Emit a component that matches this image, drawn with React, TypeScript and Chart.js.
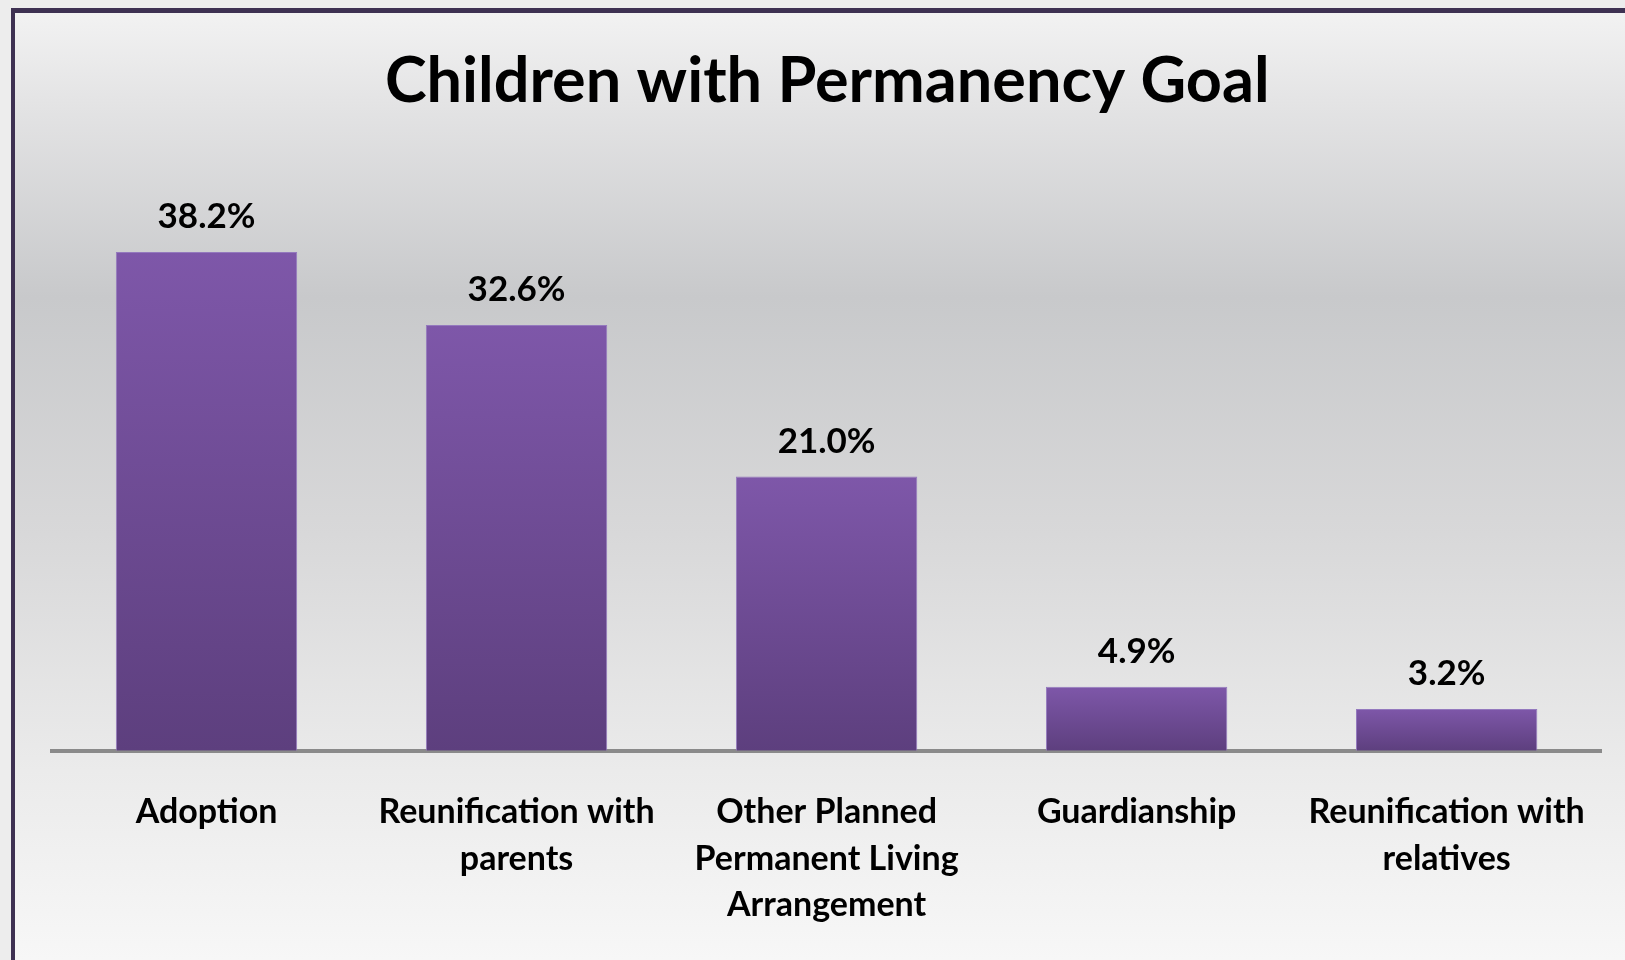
import React, { useEffect, useRef } from "react";
import { Chart, registerables } from "chart.js";

Chart.register(...registerables);

const chartTitle = "Children with Permanency Goal";
const categories: string[][] = [
  ["Adoption"],
  ["Reunification with", "parents"],
  ["Other Planned", "Permanent Living", "Arrangement"],
  ["Guardianship"],
  ["Reunification with", "relatives"],
];
const values: number[] = [38.2, 32.6, 21.0, 4.9, 3.2];
const valueLabels: string[] = ["38.2%", "32.6%", "21.0%", "4.9%", "3.2%"];

const FONT = "Lato";

const bgPlugin = {
  id: "bgFrame",
  beforeDraw(chart: any) {
    const { ctx, width, height } = chart;
    ctx.save();
    ctx.fillStyle = "#ededed";
    ctx.fillRect(0, 0, width, height);
    const g = ctx.createLinearGradient(0, 13, 0, height);
    g.addColorStop(0, "#f2f2f2");
    g.addColorStop(0.1, "#e3e3e4");
    g.addColorStop(0.3, "#c8c9cb");
    g.addColorStop(0.55, "#d8d8d9");
    g.addColorStop(0.8, "#ebebeb");
    g.addColorStop(1, "#f7f7f7");
    ctx.fillStyle = g;
    ctx.fillRect(15, 13, width - 15, height - 13);
    ctx.fillStyle = "#3e3152";
    ctx.fillRect(11, 8, width - 11, 5);
    ctx.fillRect(11, 8, 4, height - 8);
    ctx.restore();
  },
};

const valueLabelPlugin = {
  id: "valueLabels",
  afterDatasetsDraw(chart: any) {
    const { ctx } = chart;
    const meta = chart.getDatasetMeta(0);
    ctx.save();
    ctx.font = `bold 35px ${FONT}`;
    ctx.fillStyle = "#000";
    ctx.textAlign = "center";
    ctx.textBaseline = "alphabetic";
    meta.data.forEach((bar: any, i: number) => {
      ctx.fillText(valueLabels[i], bar.x, bar.y - 24);
    });
    ctx.restore();
  },
};

export default function App() {
  const ref = useRef<HTMLCanvasElement | null>(null);
  useEffect(() => {
    if (!ref.current) return;
    const chart = new Chart(ref.current, {
      type: "bar",
      data: {
        labels: categories,
        datasets: [
          {
            data: values,
            backgroundColor: (c: any) => {
              const ch = c.chart;
              if (!ch.chartArea || c.type !== "data") return "#6d4b95";
              const y = ch.scales.y.getPixelForValue(c.raw);
              const base = ch.scales.y.getPixelForValue(0);
              const g = ch.ctx.createLinearGradient(0, y, 0, base);
              g.addColorStop(0, "#7e57a9");
              g.addColorStop(1, "#5d3f7e");
              return g;
            },
            borderColor: "#9479be",
            borderWidth: 1,
            categoryPercentage: 1,
            barPercentage: 0.585,
          },
        ],
      },
      options: {
        responsive: false,
        animation: false,
        layout: { padding: { top: 13, left: 51.5, right: 22, bottom: -6.5 } },
        plugins: {
          legend: { display: false },
          tooltip: { enabled: false },
          title: {
            display: true,
            text: chartTitle,
            color: "#000",
            font: { family: FONT, size: 63, weight: "bold", lineHeight: 1.2 },
            padding: { top: 30.6, bottom: 109.2 },
          },
        },
        scales: {
          x: {
            grid: { display: true, drawOnChartArea: false, drawTicks: false },
            border: { display: true, color: "#8a8a8a", width: 4 },
            ticks: {
              color: "#000",
              font: { family: FONT, size: 34, weight: "bold", lineHeight: 1.37 },
              padding: 38,
              maxRotation: 0,
              autoSkip: false,
            },
          },
          y: { display: false, min: 0, max: 40 },
        },
      },
      plugins: [bgPlugin, valueLabelPlugin],
    });
    return () => chart.destroy();
  }, []);
  return (
    <div style={{ position: "fixed", left: 0, top: 0, width: 1625, height: 960 }}>
      <canvas ref={ref} width={1625} height={960} style={{ display: "block" }} />
    </div>
  );
}
